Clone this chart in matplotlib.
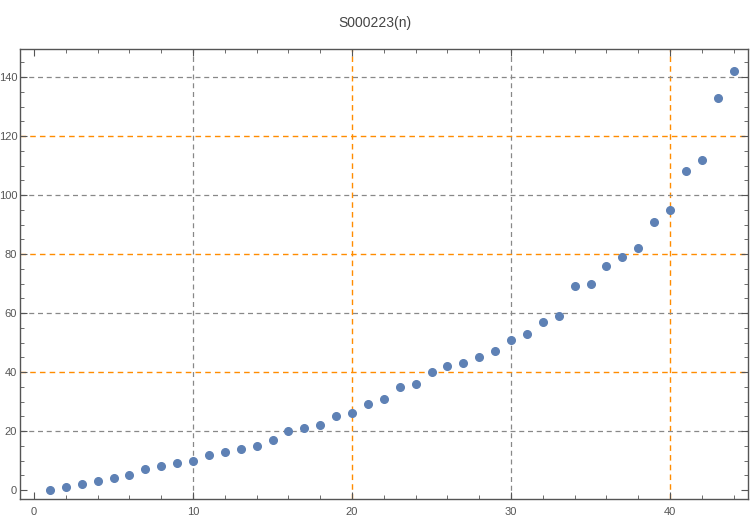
import matplotlib.pyplot as plt
from matplotlib.ticker import MultipleLocator

plt.rcParams["font.family"] = ["Liberation Sans", "DejaVu Sans"]

# sequence values
n_values = list(range(1, 45))
s_values = [0, 1, 2, 3, 4, 5, 7, 8, 9, 10,
            12, 13, 14, 15, 17, 20, 21, 22, 25, 26,
            29, 31, 35, 36, 40, 42, 43, 45, 47, 51,
            53, 57, 59, 69, 70, 76, 79, 82, 91, 95,
            108, 112, 133, 142]

gray_x = [10, 30]
orange_x = [20, 40]
gray_y = [20, 60, 100, 140]
orange_y = [40, 80, 120]

fig = plt.figure(figsize=(7.5, 5.17), dpi=100)
ax = fig.add_axes([20 / 750, 1 - 499 / 517, 728 / 750, 450 / 517])

frame = "#555555"
for v in gray_x:
    ax.axvline(v, color="#888888", lw=0.9, ls=(0, (4, 3)), zorder=1)
for v in orange_x:
    ax.axvline(v, color="#FF8C00", lw=1.0, ls=(0, (4, 3)), zorder=1)
for v in gray_y:
    ax.axhline(v, color="#888888", lw=0.9, ls=(0, (4, 3)), zorder=1)
for v in orange_y:
    ax.axhline(v, color="#FF8C00", lw=1.0, ls=(0, (4, 3)), zorder=1)

ax.plot(n_values, s_values, "o", color="#5E81B5", markersize=5.5, zorder=3)

ax.set_xlim(-0.88, 44.9)
ax.set_ylim(-3.05, 149.5)

ax.xaxis.set_major_locator(MultipleLocator(10))
ax.xaxis.set_minor_locator(MultipleLocator(2))
ax.yaxis.set_major_locator(MultipleLocator(20))
ax.yaxis.set_minor_locator(MultipleLocator(5))

ax.tick_params(which="both", direction="in", top=True, right=True,
               color=frame, labelsize=8, labelcolor="#555555")
ax.tick_params(which="major", length=5, width=0.8)
ax.tick_params(which="minor", length=3, width=0.6)
ax.tick_params(axis="x", pad=6)
ax.tick_params(axis="y", pad=2)
ax.tick_params(labeltop=False, labelright=False)

for s in ax.spines.values():
    s.set_color(frame)
    s.set_linewidth(1.0)

fig.text(0.5, 1 - 23 / 517, "S000223(n)", ha="center", va="center",
         fontsize=10, color="#444444")

fig.savefig("out.png", dpi=100)
